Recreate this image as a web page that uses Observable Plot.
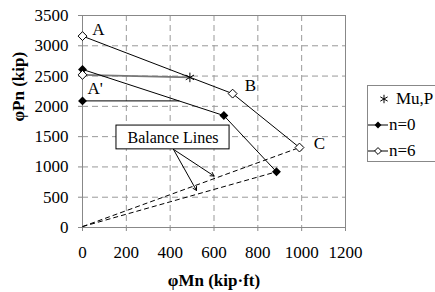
<!DOCTYPE html>
<html>
<head>
<meta charset="utf-8">
<script src="https://cdn.jsdelivr.net/npm/d3@7"></script>
<script src="https://cdn.jsdelivr.net/npm/@observablehq/plot@0.6"></script>
<style>
  html, body { margin: 0; padding: 0; background: #fff; }
  #wrap { position: relative; width: 435px; height: 292px; font-family: "Liberation Serif", "Times New Roman", serif; }
  #legend { position: absolute; left: 367px; top: 85px; width: 80px; height: 77px; border: 1px solid #888; box-sizing: border-box; background: #fff; font-size: 17px; color: #000; font-family: "Liberation Serif", serif; }
  #legend .item { position: absolute; left: 0; height: 20px; display: flex; align-items: center; }
  #legend svg { display: block; }
</style>
</head>
<body>
<div id="wrap"></div>
<script>
// ---- data ----
const xTicks = [0, 200, 400, 600, 800, 1000, 1200];
const yTicks = [0, 500, 1000, 1500, 2000, 2500, 3000, 3500];

// n=6 interaction curve (A, B, C)
const mnN6 = [0, 685, 990];
const pnN6 = [3160, 2210, 1320];
// n=0 interaction curve
const mnN0 = [0, 645, 885];
const pnN0 = [2610, 1848, 920];
// n=0 horizontal segment
const mnN0b = [0, 440];
const pnN0b = [2090, 2090];
// n=6 A' point and its line to Mu,P
const mnA2 = [0, 490];
const pnA2 = [2520, 2478];
// Mu,P
const mnMu = [490];
const pnMu = [2478];
// balance lines (origin to C and to n=0 end)
const balStartMn = 0, balStartPn = 15;
const balEndMn = [990, 885];
const balEndPn = [1320, 920];

// point labels
const labelText = ["A", "A'", "B", "C"];
const labelMn = [45, 23, 740, 1055];
const labelPn = [3260, 2300, 2350, 1380];

// "Balance Lines" callout
const calloutText = "Balance Lines";
const calloutBox = {x1: 155, x2: 671, y1: 1290, y2: 1683};
const arrowFromMn = 415, arrowFromPn = 1290;
const arrowToMn = [600, 520];
const arrowToPn = [850, 612];

// legend
const legendLabels = ["Mu,P", "n=0", "n=6"];

// ---- build tables ----
const toPts = (xs, ys) => xs.map((x, i) => ({x, y: ys[i]}));
const n6 = toPts(mnN6, pnN6);
const n0 = toPts(mnN0, pnN0);
const n0b = toPts(mnN0b, pnN0b);
const a2 = toPts(mnA2, pnA2);
const mu = toPts(mnMu, pnMu);
const bal = balEndMn.map((x, i) => ({x1: balStartMn, y1: balStartPn, x2: x, y2: balEndPn[i]}));
const labels = labelText.map((t, i) => ({t, x: labelMn[i], y: labelPn[i]}));
const arrows = arrowToMn.map((x, i) => ({x1: arrowFromMn, y1: arrowFromPn, x2: x, y2: arrowToPn[i]}));

const font = '"Liberation Serif", "Times New Roman", serif';
const gridStyle = {stroke: "#999", strokeOpacity: 1, strokeDasharray: "6,4"};

const chart = Plot.plot({
  width: 435,
  height: 292,
  marginLeft: 82,
  marginRight: 90,
  marginTop: 15,
  marginBottom: 65,
  style: {fontFamily: font, fontSize: "17px", background: "#fff", color: "#000"},
  x: {domain: [0, 1200], ticks: xTicks},
  y: {domain: [0, 3500], ticks: yTicks},
  marks: [
    Plot.gridX(xTicks.slice(1, -1), gridStyle),
    Plot.gridY(yTicks.slice(1, -1), gridStyle),
    Plot.frame({stroke: "#888"}),
    Plot.axisX(xTicks, {tickSize: 4, tickPadding: 14, stroke: "#888", fontSize: 17, label: null, tickFormat: d => String(d)}),
    Plot.axisY(yTicks, {tickSize: 4, tickPadding: 10, stroke: "#888", fontSize: 17, label: null, tickFormat: d => String(d)}),
    Plot.text(["φMn (kip·ft)"], {frameAnchor: "bottom", dy: 58, fontWeight: "bold", fontSize: 17}),
    Plot.text(["φPn (kip)"], {frameAnchor: "left", dx: -64, rotate: -90, fontWeight: "bold", fontSize: 17}),
    // balance lines
    Plot.link(bal, {x1: "x1", y1: "y1", x2: "x2", y2: "y2", stroke: "#000", strokeWidth: 1, strokeDasharray: "5,3"}),
    // A' to Mu,P
    Plot.line(a2, {x: "x", y: "y", stroke: "#777", strokeWidth: 1.6}),
    // n=0 horizontal
    Plot.line(n0b, {x: "x", y: "y", stroke: "#000", strokeWidth: 1}),
    // curves
    Plot.line(n6, {x: "x", y: "y", stroke: "#000", strokeWidth: 1}),
    Plot.line(n0, {x: "x", y: "y", stroke: "#000", strokeWidth: 1}),
    // markers
    Plot.dot(n0, {x: "x", y: "y", symbol: "diamond2", r: 4, fill: "#000", stroke: "none"}),
    Plot.dot(n0b.slice(0, 1), {x: "x", y: "y", symbol: "diamond2", r: 4, fill: "#000", stroke: "none"}),
    Plot.dot(n6, {x: "x", y: "y", symbol: "diamond2", r: 4, fill: "#fff", stroke: "#000", strokeWidth: 1}),
    Plot.dot(a2.slice(0, 1), {x: "x", y: "y", symbol: "diamond2", r: 4, fill: "#fff", stroke: "#000", strokeWidth: 1}),
    Plot.dot(mu, {x: "x", y: "y", symbol: "asterisk", r: 4.5, stroke: "#000", strokeWidth: 1}),
    // point labels
    Plot.text(labels, {x: "x", y: "y", text: "t", textAnchor: "start", fontSize: 17}),
    // callout
    Plot.arrow(arrows, {x1: "x1", y1: "y1", x2: "x2", y2: "y2", stroke: "#000", strokeWidth: 1, headLength: 6, bend: 0}),
    Plot.rect([calloutBox], {x1: "x1", x2: "x2", y1: "y1", y2: "y2", fill: "#fff", stroke: "#000", strokeWidth: 1}),
    Plot.text([calloutText], {x: (calloutBox.x1 + calloutBox.x2) / 2, y: (calloutBox.y1 + calloutBox.y2) / 2, fontSize: 16})
  ]
});

// force the serif face on every text node
d3.select(chart).style("font-family", font);
d3.select(chart).selectAll("g, text, tspan").style("font-family", font);

const wrap = document.getElementById("wrap");
wrap.appendChild(chart);

// legend overlay
const legend = document.createElement("div");
legend.id = "legend";
const symPath = {
  "Mu,P": () => {
    const p = d3.symbol(d3.symbolAsterisk, 50)();
    return `<path d="${p}" transform="translate(10,10)" stroke="#000" fill="none" stroke-width="1"/>`;
  },
  "n=0": () => {
    const p = d3.symbol(d3.symbolDiamond2, 30)();
    return `<line x1="0" x2="20" y1="10" y2="10" stroke="#000"/><path d="${p}" transform="translate(10,10)" fill="#000"/>`;
  },
  "n=6": () => {
    const p = d3.symbol(d3.symbolDiamond2, 30)();
    return `<line x1="0" x2="20" y1="10" y2="10" stroke="#000"/><path d="${p}" transform="translate(10,10)" fill="#fff" stroke="#000"/>`;
  }
};
const tops = [3, 29, 55];
legendLabels.forEach((lab, i) => {
  const item = document.createElement("div");
  item.className = "item";
  item.style.top = tops[i] + "px";
  const leftPad = lab === "Mu,P" ? 6 : 0;
  item.innerHTML = `<svg width="${20 + leftPad}" height="20"><g transform="translate(${leftPad},0)">${symPath[lab]()}</g></svg><span style="margin-left:${lab === "Mu,P" ? 2 : 1}px">${lab}</span>`;
  legend.appendChild(item);
});
wrap.appendChild(legend);
</script>
</body>
</html>
